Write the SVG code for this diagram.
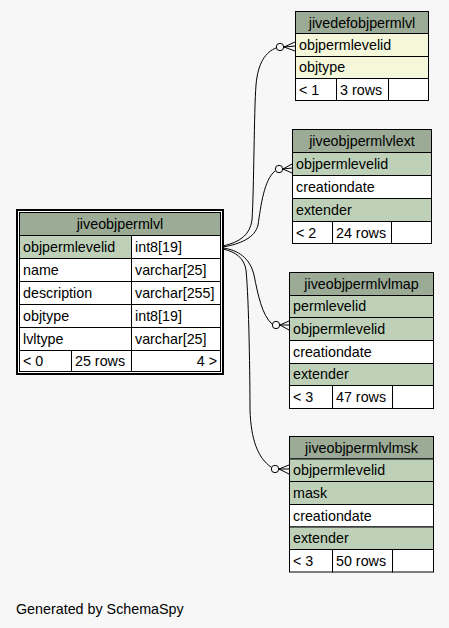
<svg xmlns="http://www.w3.org/2000/svg" width="449" height="628" viewBox="0 0 449 628">
<style>
text{font-family:"Liberation Sans",Arial,Helvetica,sans-serif;font-size:14.3px;fill:#000}
.c{text-anchor:middle}
.r{text-anchor:end}
.hd{fill:#9bab96;stroke:#000;stroke-width:1}
.pk{fill:#bed1b8;stroke:#000;stroke-width:1}
.w{fill:#ffffff;stroke:#000;stroke-width:1}
.im{fill:#f4f7da;stroke:#000;stroke-width:1}
.e{fill:none;stroke:#000;stroke-width:1}
.dot{fill:#f7f7f7;stroke:#000;stroke-width:1}
</style>
<rect x="0" y="0" width="449" height="628" fill="#f7f7f7"/>

<g id="connectors">
  <path class="e" d="M223,246 C240,242 250,235 252,220 C254,190 254,110 256,85 C258,62 266,52 276,48"/>
  <circle class="dot" cx="280" cy="47" r="3.7"/>
  <path class="e" d="M284,47 L295,42 M284,47 L295,46 M284,47 L295,51"/>

  <path class="e" d="M223,247 C240,244 255,238 258,225 C261,205 264,180 275,171"/>
  <circle class="dot" cx="279" cy="169" r="3.7"/>
  <path class="e" d="M283,169 L292,164 M283,169 L292,168 M283,169 L292,173"/>

  <path class="e" d="M223,248 C238,250 250,258 254,275 C258,295 262,315 272,324"/>
  <circle class="dot" cx="276" cy="325" r="3.7"/>
  <path class="e" d="M280,325 L289,321 M280,325 L289,325 M280,325 L289,330"/>

  <path class="e" d="M223,249 C236,252 244,258 246,270 C249,300 250,380 250,410 C251,440 258,458 271,467"/>
  <circle class="dot" cx="275" cy="469" r="3.7"/>
  <path class="e" d="M279,469 L289,465 M279,469 L289,469 M279,469 L289,474"/>
</g>

<g id="jiveobjpermlvl">
  <rect x="16" y="209" width="208" height="166" fill="#000"/>
  <rect x="18" y="211" width="204" height="162" fill="#fff"/>
  <rect class="hd" x="19.5" y="212.5" width="201" height="23"/>
  <rect class="pk" x="19.5" y="235.5" width="112" height="23"/>
  <rect class="w" x="131.5" y="235.5" width="89" height="23"/>
  <rect class="w" x="19.5" y="258.5" width="112" height="23"/>
  <rect class="w" x="131.5" y="258.5" width="89" height="23"/>
  <rect class="w" x="19.5" y="281.5" width="112" height="23"/>
  <rect class="w" x="131.5" y="281.5" width="89" height="23"/>
  <rect class="w" x="19.5" y="304.5" width="112" height="23"/>
  <rect class="w" x="131.5" y="304.5" width="89" height="23"/>
  <rect class="w" x="19.5" y="327.5" width="112" height="23"/>
  <rect class="w" x="131.5" y="327.5" width="89" height="23"/>
  <rect class="w" x="19.5" y="350.5" width="52" height="21"/>
  <rect class="w" x="71.5" y="350.5" width="60" height="21"/>
  <rect class="w" x="131.5" y="350.5" width="89" height="21"/>
  <text class="c" x="120" y="229">jiveobjpermlvl</text>
  <text x="23" y="252">objpermlevelid</text><text x="135" y="252">int8[19]</text>
  <text x="23" y="275">name</text><text x="135" y="275">varchar[25]</text>
  <text x="23" y="298">description</text><text x="135" y="298">varchar[255]</text>
  <text x="23" y="321">objtype</text><text x="135" y="321">int8[19]</text>
  <text x="23" y="344">lvltype</text><text x="135" y="344">varchar[25]</text>
  <text x="23" y="366">&lt; 0</text><text x="75" y="366">25 rows</text><text class="r" x="217" y="366">4 &gt;</text>
</g>

<g id="jivedefobjpermlvl">
  <rect class="hd" x="295.5" y="11.5" width="133" height="22"/>
  <rect class="im" x="295.5" y="33.5" width="133" height="23"/>
  <rect class="im" x="295.5" y="56.5" width="133" height="22"/>
  <rect class="w" x="295.5" y="78.5" width="41" height="22"/>
  <rect class="w" x="336.5" y="78.5" width="52" height="22"/>
  <rect class="w" x="388.5" y="78.5" width="40" height="22"/>
  <text class="c" x="362" y="28">jivedefobjpermlvl</text>
  <text x="299" y="50">objpermlevelid</text>
  <text x="299" y="72">objtype</text>
  <text x="299" y="95">&lt; 1</text><text x="340" y="95">3 rows</text>
</g>

<g id="jiveobjpermlvlext">
  <rect class="hd" x="292.5" y="129.5" width="139" height="23"/>
  <rect class="pk" x="292.5" y="152.5" width="139" height="23"/>
  <rect class="w" x="292.5" y="175.5" width="139" height="23"/>
  <rect class="pk" x="292.5" y="198.5" width="139" height="23"/>
  <rect class="w" x="292.5" y="221.5" width="40" height="22"/>
  <rect class="w" x="332.5" y="221.5" width="59" height="22"/>
  <rect class="w" x="391.5" y="221.5" width="40" height="22"/>
  <text class="c" x="362" y="146">jiveobjpermlvlext</text>
  <text x="296" y="169">objpermlevelid</text>
  <text x="296" y="192">creationdate</text>
  <text x="296" y="215">extender</text>
  <text x="296" y="238">&lt; 2</text><text x="336" y="238">24 rows</text>
</g>

<g id="jiveobjpermlvlmap">
  <rect class="hd" x="289.5" y="272.5" width="144" height="23"/>
  <rect class="pk" x="289.5" y="295.5" width="144" height="22"/>
  <rect class="pk" x="289.5" y="317.5" width="144" height="23"/>
  <rect class="w" x="289.5" y="340.5" width="144" height="23"/>
  <rect class="pk" x="289.5" y="363.5" width="144" height="22"/>
  <rect class="w" x="289.5" y="385.5" width="43" height="23"/>
  <rect class="w" x="332.5" y="385.5" width="60" height="23"/>
  <rect class="w" x="392.5" y="385.5" width="41" height="23"/>
  <text class="c" x="361.5" y="289">jiveobjpermlvlmap</text>
  <text x="293" y="311">permlevelid</text>
  <text x="293" y="334">objpermlevelid</text>
  <text x="293" y="357">creationdate</text>
  <text x="293" y="379">extender</text>
  <text x="293" y="402">&lt; 3</text><text x="336" y="402">47 rows</text>
</g>

<g id="jiveobjpermlvlmsk">
  <rect class="hd" x="289.5" y="436.5" width="144" height="22.5"/>
  <rect class="pk" x="289.5" y="459" width="144" height="22.5"/>
  <rect class="pk" x="289.5" y="481.5" width="144" height="23"/>
  <rect class="w" x="289.5" y="504.5" width="144" height="22.5"/>
  <rect class="pk" x="289.5" y="527" width="144" height="22.5"/>
  <rect class="w" x="289.5" y="549.5" width="43" height="22.5"/>
  <rect class="w" x="332.5" y="549.5" width="60" height="22.5"/>
  <rect class="w" x="392.5" y="549.5" width="41" height="22.5"/>
  <text class="c" x="361.5" y="453">jiveobjpermlvlmsk</text>
  <text x="293" y="475">objpermlevelid</text>
  <text x="293" y="498">mask</text>
  <text x="293" y="521">creationdate</text>
  <text x="293" y="543">extender</text>
  <text x="293" y="566">&lt; 3</text><text x="336" y="566">50 rows</text>
</g>

<text x="16" y="614">Generated by SchemaSpy</text>
</svg>
